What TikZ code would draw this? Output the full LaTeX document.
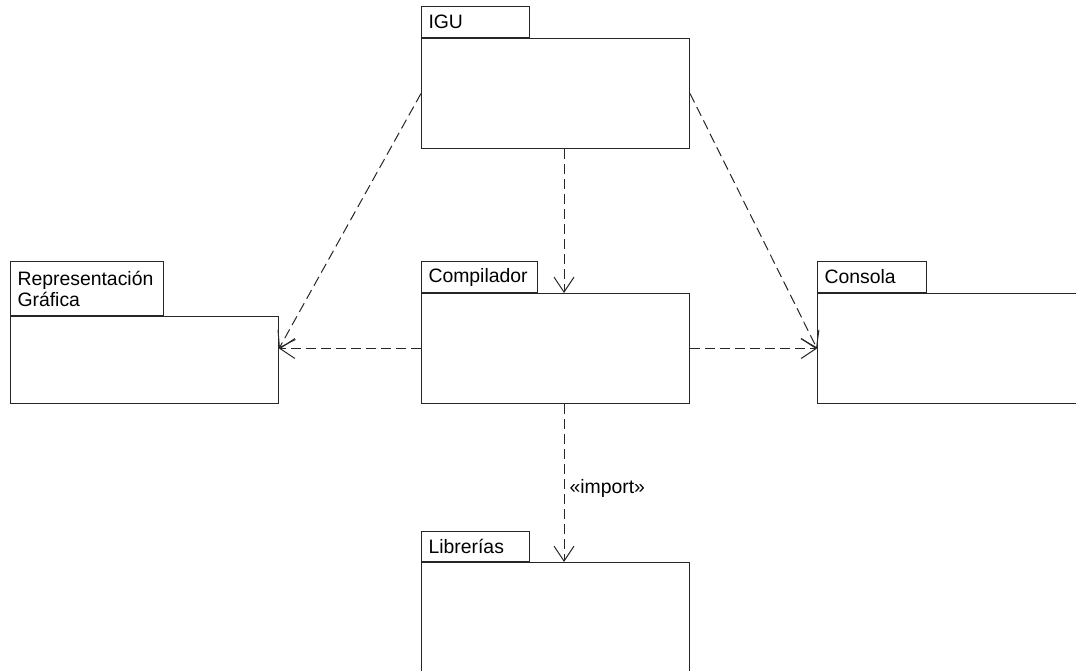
\documentclass[tikz,border=0pt]{standalone}
\usepackage{fontspec}
\setmainfont{Liberation Sans}
\usetikzlibrary{arrows.meta,calc}

\begin{document}
\begin{tikzpicture}[x=1pt,y=-1pt,
  ink/.style={draw=black!85,line width=1pt},
  pkgbody/.style={ink,rectangle,inner sep=0pt,anchor=north west},
  pkgtab/.style={ink,rectangle,inner xsep=7pt,inner ysep=0pt,anchor=south west,
    align=left,font=\fontsize{19.4}{21}\selectfont},
  dep/.style={ink,dash pattern=on 10pt off 5pt,
    -{Straight Barb[length=15pt,width=20pt,line width=1pt]}},
  lbl/.style={font=\fontsize{19.4}{21}\selectfont,inner sep=0pt}
]
\useasboundingbox (0,0) rectangle (1076,671);

% IGU
\node[pkgbody,minimum width=268pt,minimum height=110pt] (igu) at (421,38) {};
\node[pkgtab,text width=94pt,minimum height=31pt] (igutab) at (igu.north west) {IGU};

% Compilador
\node[pkgbody,minimum width=268pt,minimum height=110pt] (comp) at (421,293) {};
\node[pkgtab,text width=102pt,minimum height=31pt] (comptab) at (comp.north west) {Compilador};

% Representación Gráfica
\node[pkgbody,minimum width=268pt,minimum height=87pt] (rep) at (10,316) {};
\node[pkgtab,text width=139pt,minimum height=54pt] (reptab) at (rep.north west) {Representación\\Gráfica};

% Consola (continues past the right edge)
\node[pkgbody,minimum width=280pt,minimum height=110pt] (cons) at (817,293) {};
\node[pkgtab,text width=95pt,minimum height=31pt] (constab) at (cons.north west) {Consola};

% Librerías (continues past the bottom edge)
\node[pkgbody,minimum width=268pt,minimum height=130pt] (lib) at (421,562) {};
\node[pkgtab,text width=94pt,minimum height=30pt] (libtab) at (lib.north west) {Librerías};

% dependencies
\coordinate (axis) at (564,0);
\coordinate (reptip) at (rep.east |- comp.west);

\draw[dep] (igu.south -| axis) -- (comp.north -| axis);
\draw[dep] (igu.west) -- (reptip);
\draw[dep] (igu.east) -- (cons.west);
\draw[dep] (comp.west) -- (reptip);
\draw[dep] (comp.east) -- (cons.west);
\draw[dep] (comp.south -| axis) -- node[lbl,pos=0.535,anchor=west,xshift=5pt] (imp) {«import»} (lib.north -| axis);
\end{tikzpicture}
\end{document}
